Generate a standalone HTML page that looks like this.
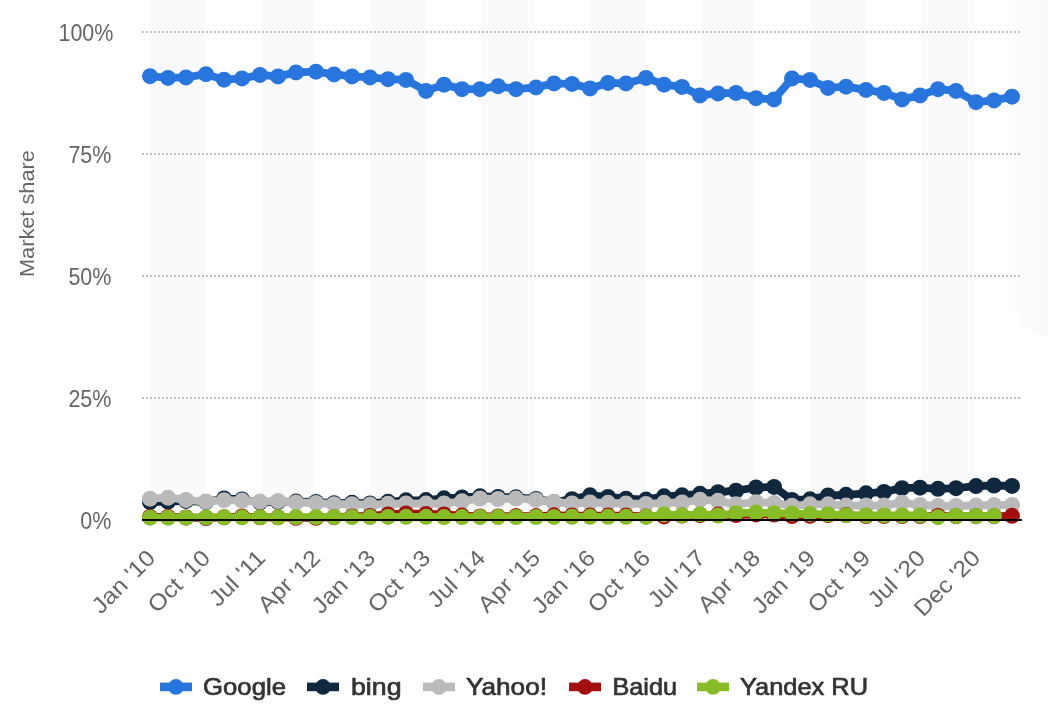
<!DOCTYPE html>
<html><head><meta charset="utf-8"><title>Chart</title>
<style>html,body{margin:0;padding:0;background:#fff;}svg{display:block;}text{font-family:"Liberation Sans",sans-serif;}</style>
</head><body>
<svg style="will-change:transform" width="1048" height="715" viewBox="0 0 1048 715">
<rect x="0" y="0" width="1048" height="715" fill="#ffffff"/>
<defs><linearGradient id="tg" gradientUnits="userSpaceOnUse" x1="1000" x2="1048" y1="0" y2="0"><stop offset="0" stop-color="#ffffff"/><stop offset="0.35" stop-color="#fcfdfd"/><stop offset="1" stop-color="#f8f9fb"/></linearGradient></defs>
<rect x="1003" y="-60" width="120" height="396" rx="48" ry="60" fill="url(#tg)"/>
<rect x="151" y="0" width="54" height="520" fill="#fafafa"/>
<rect x="261" y="0" width="54" height="520" fill="#fafafa"/>
<rect x="371" y="0" width="54" height="520" fill="#fafafa"/>
<rect x="481" y="0" width="54" height="520" fill="#fafafa"/>
<rect x="591" y="0" width="54" height="520" fill="#fafafa"/>
<rect x="701" y="0" width="54" height="520" fill="#fafafa"/>
<rect x="811" y="0" width="54" height="520" fill="#fafafa"/>
<rect x="921" y="0" width="54" height="520" fill="#fafafa"/>
<line x1="142" x2="1020" y1="32" y2="32" stroke="#c2c2c2" stroke-width="2" stroke-dasharray="2,2"/>
<line x1="142" x2="1020" y1="154" y2="154" stroke="#c2c2c2" stroke-width="2" stroke-dasharray="2,2"/>
<line x1="142" x2="1020" y1="276" y2="276" stroke="#c2c2c2" stroke-width="2" stroke-dasharray="2,2"/>
<line x1="142" x2="1020" y1="398" y2="398" stroke="#c2c2c2" stroke-width="2" stroke-dasharray="2,2"/>
<text transform="translate(113.4,40.9) scale(0.914,1)" text-anchor="end" font-size="23.5" fill="#666666">100%</text>
<text transform="translate(111.4,162.9) scale(0.914,1)" text-anchor="end" font-size="23.5" fill="#666666">75%</text>
<text transform="translate(111.4,284.9) scale(0.914,1)" text-anchor="end" font-size="23.5" fill="#666666">50%</text>
<text transform="translate(111.4,406.9) scale(0.914,1)" text-anchor="end" font-size="23.5" fill="#666666">25%</text>
<text transform="translate(111.4,528.9) scale(0.914,1)" text-anchor="end" font-size="23.5" fill="#666666">0%</text>
<text transform="translate(33.7,277) rotate(-90)" font-size="19.9" fill="#666666" textLength="126.8" lengthAdjust="spacingAndGlyphs">Market share</text>
<g fill="#2876dd" stroke="none">
<polyline points="150.00,76.15 168.00,77.90 186.00,77.40 206.00,74.15 224.00,79.65 242.00,78.40 260.00,74.90 278.00,76.40 296.00,72.40 316.00,71.65 334.00,74.40 352.00,76.40 370.00,77.40 388.00,79.15 406.00,79.90 426.00,90.90 444.00,84.65 462.00,89.15 480.00,89.15 498.00,86.15 516.00,89.15 536.00,87.40 554.00,83.40 572.00,83.90 590.00,88.40 608.00,82.90 626.00,83.40 646.00,77.90 664.00,84.65 682.00,86.90 700.00,95.40 718.00,93.40 736.00,92.90 756.00,98.15 774.00,99.40 792.00,78.40 810.00,79.90 828.00,87.90 846.00,86.65 866.00,89.90 884.00,92.90 902.00,99.40 920.00,95.40 938.00,89.15 956.00,90.90 976.00,102.15 994.00,100.40 1012.00,96.65" fill="none" stroke="#2876dd" stroke-width="7.8" stroke-linejoin="round" stroke-linecap="round"/>
<circle cx="150.00" cy="76.15" r="8.0"/>
<circle cx="168.00" cy="77.90" r="8.0"/>
<circle cx="186.00" cy="77.40" r="8.0"/>
<circle cx="206.00" cy="74.15" r="8.0"/>
<circle cx="224.00" cy="79.65" r="8.0"/>
<circle cx="242.00" cy="78.40" r="8.0"/>
<circle cx="260.00" cy="74.90" r="8.0"/>
<circle cx="278.00" cy="76.40" r="8.0"/>
<circle cx="296.00" cy="72.40" r="8.0"/>
<circle cx="316.00" cy="71.65" r="8.0"/>
<circle cx="334.00" cy="74.40" r="8.0"/>
<circle cx="352.00" cy="76.40" r="8.0"/>
<circle cx="370.00" cy="77.40" r="8.0"/>
<circle cx="388.00" cy="79.15" r="8.0"/>
<circle cx="406.00" cy="79.90" r="8.0"/>
<circle cx="426.00" cy="90.90" r="8.0"/>
<circle cx="444.00" cy="84.65" r="8.0"/>
<circle cx="462.00" cy="89.15" r="8.0"/>
<circle cx="480.00" cy="89.15" r="8.0"/>
<circle cx="498.00" cy="86.15" r="8.0"/>
<circle cx="516.00" cy="89.15" r="8.0"/>
<circle cx="536.00" cy="87.40" r="8.0"/>
<circle cx="554.00" cy="83.40" r="8.0"/>
<circle cx="572.00" cy="83.90" r="8.0"/>
<circle cx="590.00" cy="88.40" r="8.0"/>
<circle cx="608.00" cy="82.90" r="8.0"/>
<circle cx="626.00" cy="83.40" r="8.0"/>
<circle cx="646.00" cy="77.90" r="8.0"/>
<circle cx="664.00" cy="84.65" r="8.0"/>
<circle cx="682.00" cy="86.90" r="8.0"/>
<circle cx="700.00" cy="95.40" r="8.0"/>
<circle cx="718.00" cy="93.40" r="8.0"/>
<circle cx="736.00" cy="92.90" r="8.0"/>
<circle cx="756.00" cy="98.15" r="8.0"/>
<circle cx="774.00" cy="99.40" r="8.0"/>
<circle cx="792.00" cy="78.40" r="8.0"/>
<circle cx="810.00" cy="79.90" r="8.0"/>
<circle cx="828.00" cy="87.90" r="8.0"/>
<circle cx="846.00" cy="86.65" r="8.0"/>
<circle cx="866.00" cy="89.90" r="8.0"/>
<circle cx="884.00" cy="92.90" r="8.0"/>
<circle cx="902.00" cy="99.40" r="8.0"/>
<circle cx="920.00" cy="95.40" r="8.0"/>
<circle cx="938.00" cy="89.15" r="8.0"/>
<circle cx="956.00" cy="90.90" r="8.0"/>
<circle cx="976.00" cy="102.15" r="8.0"/>
<circle cx="994.00" cy="100.40" r="8.0"/>
<circle cx="1012.00" cy="96.65" r="8.0"/>
</g>
<g fill="#0f283e" stroke="none">
<polyline points="150.00,502.00 168.00,501.50 186.00,500.90 206.00,502.00 224.00,498.50 242.00,499.50 260.00,502.30 278.00,501.80 296.00,501.60 316.00,502.00 334.00,503.20 352.00,502.80 370.00,503.50 388.00,501.80 406.00,500.30 426.00,500.10 444.00,498.30 462.00,497.40 480.00,496.30 498.00,497.00 516.00,497.30 536.00,498.90 554.00,502.20 572.00,499.20 590.00,495.30 608.00,497.00 626.00,498.70 646.00,499.60 664.00,496.30 682.00,495.30 700.00,493.80 718.00,492.20 736.00,490.70 756.00,487.50 774.00,486.90 792.00,500.00 810.00,499.30 828.00,495.50 846.00,494.80 866.00,493.30 884.00,491.90 902.00,488.20 920.00,487.70 938.00,488.80 956.00,488.20 976.00,486.10 994.00,485.50 1012.00,485.90" fill="none" stroke="#0f283e" stroke-width="7.8" stroke-linejoin="round" stroke-linecap="round"/>
<circle cx="150.00" cy="502.00" r="8.0"/>
<circle cx="168.00" cy="501.50" r="8.0"/>
<circle cx="186.00" cy="500.90" r="8.0"/>
<circle cx="206.00" cy="502.00" r="8.0"/>
<circle cx="224.00" cy="498.50" r="8.0"/>
<circle cx="242.00" cy="499.50" r="8.0"/>
<circle cx="260.00" cy="502.30" r="8.0"/>
<circle cx="278.00" cy="501.80" r="8.0"/>
<circle cx="296.00" cy="501.60" r="8.0"/>
<circle cx="316.00" cy="502.00" r="8.0"/>
<circle cx="334.00" cy="503.20" r="8.0"/>
<circle cx="352.00" cy="502.80" r="8.0"/>
<circle cx="370.00" cy="503.50" r="8.0"/>
<circle cx="388.00" cy="501.80" r="8.0"/>
<circle cx="406.00" cy="500.30" r="8.0"/>
<circle cx="426.00" cy="500.10" r="8.0"/>
<circle cx="444.00" cy="498.30" r="8.0"/>
<circle cx="462.00" cy="497.40" r="8.0"/>
<circle cx="480.00" cy="496.30" r="8.0"/>
<circle cx="498.00" cy="497.00" r="8.0"/>
<circle cx="516.00" cy="497.30" r="8.0"/>
<circle cx="536.00" cy="498.90" r="8.0"/>
<circle cx="554.00" cy="502.20" r="8.0"/>
<circle cx="572.00" cy="499.20" r="8.0"/>
<circle cx="590.00" cy="495.30" r="8.0"/>
<circle cx="608.00" cy="497.00" r="8.0"/>
<circle cx="626.00" cy="498.70" r="8.0"/>
<circle cx="646.00" cy="499.60" r="8.0"/>
<circle cx="664.00" cy="496.30" r="8.0"/>
<circle cx="682.00" cy="495.30" r="8.0"/>
<circle cx="700.00" cy="493.80" r="8.0"/>
<circle cx="718.00" cy="492.20" r="8.0"/>
<circle cx="736.00" cy="490.70" r="8.0"/>
<circle cx="756.00" cy="487.50" r="8.0"/>
<circle cx="774.00" cy="486.90" r="8.0"/>
<circle cx="792.00" cy="500.00" r="8.0"/>
<circle cx="810.00" cy="499.30" r="8.0"/>
<circle cx="828.00" cy="495.50" r="8.0"/>
<circle cx="846.00" cy="494.80" r="8.0"/>
<circle cx="866.00" cy="493.30" r="8.0"/>
<circle cx="884.00" cy="491.90" r="8.0"/>
<circle cx="902.00" cy="488.20" r="8.0"/>
<circle cx="920.00" cy="487.70" r="8.0"/>
<circle cx="938.00" cy="488.80" r="8.0"/>
<circle cx="956.00" cy="488.20" r="8.0"/>
<circle cx="976.00" cy="486.10" r="8.0"/>
<circle cx="994.00" cy="485.50" r="8.0"/>
<circle cx="1012.00" cy="485.90" r="8.0"/>
</g>
<g fill="#bababa" stroke="none">
<polyline points="150.00,498.70 168.00,497.70 186.00,499.90 206.00,501.60 224.00,500.20 242.00,500.60 260.00,501.60 278.00,501.00 296.00,502.50 316.00,503.00 334.00,504.20 352.00,504.20 370.00,504.60 388.00,503.80 406.00,503.50 426.00,503.60 444.00,503.50 462.00,501.30 480.00,498.50 498.00,499.00 516.00,498.60 536.00,499.90 554.00,502.00 572.00,503.50 590.00,502.50 608.00,502.80 626.00,503.50 646.00,503.90 664.00,502.80 682.00,502.50 700.00,499.80 718.00,500.80 736.00,504.30 756.00,502.20 774.00,502.90 792.00,505.80 810.00,504.30 828.00,504.30 846.00,505.60 866.00,505.50 884.00,505.50 902.00,502.70 920.00,504.90 938.00,506.00 956.00,506.00 976.00,505.50 994.00,505.10 1012.00,504.90" fill="none" stroke="#bababa" stroke-width="7.8" stroke-linejoin="round" stroke-linecap="round"/>
<circle cx="150.00" cy="498.70" r="8.0"/>
<circle cx="168.00" cy="497.70" r="8.0"/>
<circle cx="186.00" cy="499.90" r="8.0"/>
<circle cx="206.00" cy="501.60" r="8.0"/>
<circle cx="224.00" cy="500.20" r="8.0"/>
<circle cx="242.00" cy="500.60" r="8.0"/>
<circle cx="260.00" cy="501.60" r="8.0"/>
<circle cx="278.00" cy="501.00" r="8.0"/>
<circle cx="296.00" cy="502.50" r="8.0"/>
<circle cx="316.00" cy="503.00" r="8.0"/>
<circle cx="334.00" cy="504.20" r="8.0"/>
<circle cx="352.00" cy="504.20" r="8.0"/>
<circle cx="370.00" cy="504.60" r="8.0"/>
<circle cx="388.00" cy="503.80" r="8.0"/>
<circle cx="406.00" cy="503.50" r="8.0"/>
<circle cx="426.00" cy="503.60" r="8.0"/>
<circle cx="444.00" cy="503.50" r="8.0"/>
<circle cx="462.00" cy="501.30" r="8.0"/>
<circle cx="480.00" cy="498.50" r="8.0"/>
<circle cx="498.00" cy="499.00" r="8.0"/>
<circle cx="516.00" cy="498.60" r="8.0"/>
<circle cx="536.00" cy="499.90" r="8.0"/>
<circle cx="554.00" cy="502.00" r="8.0"/>
<circle cx="572.00" cy="503.50" r="8.0"/>
<circle cx="590.00" cy="502.50" r="8.0"/>
<circle cx="608.00" cy="502.80" r="8.0"/>
<circle cx="626.00" cy="503.50" r="8.0"/>
<circle cx="646.00" cy="503.90" r="8.0"/>
<circle cx="664.00" cy="502.80" r="8.0"/>
<circle cx="682.00" cy="502.50" r="8.0"/>
<circle cx="700.00" cy="499.80" r="8.0"/>
<circle cx="718.00" cy="500.80" r="8.0"/>
<circle cx="736.00" cy="504.30" r="8.0"/>
<circle cx="756.00" cy="502.20" r="8.0"/>
<circle cx="774.00" cy="502.90" r="8.0"/>
<circle cx="792.00" cy="505.80" r="8.0"/>
<circle cx="810.00" cy="504.30" r="8.0"/>
<circle cx="828.00" cy="504.30" r="8.0"/>
<circle cx="846.00" cy="505.60" r="8.0"/>
<circle cx="866.00" cy="505.50" r="8.0"/>
<circle cx="884.00" cy="505.50" r="8.0"/>
<circle cx="902.00" cy="502.70" r="8.0"/>
<circle cx="920.00" cy="504.90" r="8.0"/>
<circle cx="938.00" cy="506.00" r="8.0"/>
<circle cx="956.00" cy="506.00" r="8.0"/>
<circle cx="976.00" cy="505.50" r="8.0"/>
<circle cx="994.00" cy="505.10" r="8.0"/>
<circle cx="1012.00" cy="504.90" r="8.0"/>
</g>
<g fill="#a30f0f" stroke="none">
<polyline points="150.00,517.00 168.00,517.00 186.00,517.50 206.00,518.00 224.00,517.30 242.00,516.40 260.00,517.30 278.00,517.30 296.00,517.80 316.00,517.80 334.00,517.20 352.00,516.40 370.00,515.90 388.00,514.50 406.00,513.50 426.00,514.00 444.00,514.50 462.00,515.60 480.00,516.40 498.00,516.40 516.00,516.10 536.00,516.10 554.00,515.30 572.00,515.60 590.00,515.60 608.00,515.60 626.00,515.60 646.00,516.40 664.00,516.40 682.00,515.60 700.00,515.20 718.00,514.60 736.00,515.10 756.00,514.40 774.00,514.60 792.00,516.10 810.00,515.80 828.00,515.10 846.00,515.10 866.00,516.10 884.00,516.00 902.00,516.00 920.00,516.00 938.00,516.00 956.00,516.20 976.00,516.20 994.00,516.20 1012.00,515.80" fill="none" stroke="#a30f0f" stroke-width="7.8" stroke-linejoin="round" stroke-linecap="round"/>
<circle cx="150.00" cy="517.00" r="8.0"/>
<circle cx="168.00" cy="517.00" r="8.0"/>
<circle cx="186.00" cy="517.50" r="8.0"/>
<circle cx="206.00" cy="518.00" r="8.0"/>
<circle cx="224.00" cy="517.30" r="8.0"/>
<circle cx="242.00" cy="516.40" r="8.0"/>
<circle cx="260.00" cy="517.30" r="8.0"/>
<circle cx="278.00" cy="517.30" r="8.0"/>
<circle cx="296.00" cy="517.80" r="8.0"/>
<circle cx="316.00" cy="517.80" r="8.0"/>
<circle cx="334.00" cy="517.20" r="8.0"/>
<circle cx="352.00" cy="516.40" r="8.0"/>
<circle cx="370.00" cy="515.90" r="8.0"/>
<circle cx="388.00" cy="514.50" r="8.0"/>
<circle cx="406.00" cy="513.50" r="8.0"/>
<circle cx="426.00" cy="514.00" r="8.0"/>
<circle cx="444.00" cy="514.50" r="8.0"/>
<circle cx="462.00" cy="515.60" r="8.0"/>
<circle cx="480.00" cy="516.40" r="8.0"/>
<circle cx="498.00" cy="516.40" r="8.0"/>
<circle cx="516.00" cy="516.10" r="8.0"/>
<circle cx="536.00" cy="516.10" r="8.0"/>
<circle cx="554.00" cy="515.30" r="8.0"/>
<circle cx="572.00" cy="515.60" r="8.0"/>
<circle cx="590.00" cy="515.60" r="8.0"/>
<circle cx="608.00" cy="515.60" r="8.0"/>
<circle cx="626.00" cy="515.60" r="8.0"/>
<circle cx="646.00" cy="516.40" r="8.0"/>
<circle cx="664.00" cy="516.40" r="8.0"/>
<circle cx="682.00" cy="515.60" r="8.0"/>
<circle cx="700.00" cy="515.20" r="8.0"/>
<circle cx="718.00" cy="514.60" r="8.0"/>
<circle cx="736.00" cy="515.10" r="8.0"/>
<circle cx="756.00" cy="514.40" r="8.0"/>
<circle cx="774.00" cy="514.60" r="8.0"/>
<circle cx="792.00" cy="516.10" r="8.0"/>
<circle cx="810.00" cy="515.80" r="8.0"/>
<circle cx="828.00" cy="515.10" r="8.0"/>
<circle cx="846.00" cy="515.10" r="8.0"/>
<circle cx="866.00" cy="516.10" r="8.0"/>
<circle cx="884.00" cy="516.00" r="8.0"/>
<circle cx="902.00" cy="516.00" r="8.0"/>
<circle cx="920.00" cy="516.00" r="8.0"/>
<circle cx="938.00" cy="516.00" r="8.0"/>
<circle cx="956.00" cy="516.20" r="8.0"/>
<circle cx="976.00" cy="516.20" r="8.0"/>
<circle cx="994.00" cy="516.20" r="8.0"/>
<circle cx="1012.00" cy="515.80" r="8.0"/>
</g>
<g fill="#86bc25" stroke="none">
<polyline points="150.00,517.70 168.00,517.70 186.00,517.70 206.00,517.40 224.00,517.30 242.00,517.30 260.00,517.30 278.00,517.30 296.00,517.10 316.00,517.10 334.00,517.10 352.00,517.10 370.00,517.10 388.00,516.90 406.00,516.80 426.00,516.80 444.00,517.10 462.00,517.10 480.00,517.10 498.00,517.10 516.00,517.00 536.00,517.00 554.00,516.90 572.00,516.80 590.00,516.80 608.00,516.80 626.00,516.80 646.00,516.80 664.00,514.50 682.00,515.30 700.00,514.30 718.00,515.50 736.00,513.20 756.00,512.60 774.00,513.20 792.00,513.60 810.00,514.10 828.00,514.40 846.00,515.20 866.00,515.40 884.00,515.40 902.00,515.40 920.00,515.40 938.00,517.20 956.00,516.00 976.00,516.00 994.00,516.00" fill="none" stroke="#86bc25" stroke-width="7.8" stroke-linejoin="round" stroke-linecap="round"/>
<circle cx="150.00" cy="517.70" r="8.0"/>
<circle cx="168.00" cy="517.70" r="8.0"/>
<circle cx="186.00" cy="517.70" r="8.0"/>
<circle cx="206.00" cy="517.40" r="8.0"/>
<circle cx="224.00" cy="517.30" r="8.0"/>
<circle cx="242.00" cy="517.30" r="8.0"/>
<circle cx="260.00" cy="517.30" r="8.0"/>
<circle cx="278.00" cy="517.30" r="8.0"/>
<circle cx="296.00" cy="517.10" r="8.0"/>
<circle cx="316.00" cy="517.10" r="8.0"/>
<circle cx="334.00" cy="517.10" r="8.0"/>
<circle cx="352.00" cy="517.10" r="8.0"/>
<circle cx="370.00" cy="517.10" r="8.0"/>
<circle cx="388.00" cy="516.90" r="8.0"/>
<circle cx="406.00" cy="516.80" r="8.0"/>
<circle cx="426.00" cy="516.80" r="8.0"/>
<circle cx="444.00" cy="517.10" r="8.0"/>
<circle cx="462.00" cy="517.10" r="8.0"/>
<circle cx="480.00" cy="517.10" r="8.0"/>
<circle cx="498.00" cy="517.10" r="8.0"/>
<circle cx="516.00" cy="517.00" r="8.0"/>
<circle cx="536.00" cy="517.00" r="8.0"/>
<circle cx="554.00" cy="516.90" r="8.0"/>
<circle cx="572.00" cy="516.80" r="8.0"/>
<circle cx="590.00" cy="516.80" r="8.0"/>
<circle cx="608.00" cy="516.80" r="8.0"/>
<circle cx="626.00" cy="516.80" r="8.0"/>
<circle cx="646.00" cy="516.80" r="8.0"/>
<circle cx="664.00" cy="514.50" r="8.0"/>
<circle cx="682.00" cy="515.30" r="8.0"/>
<circle cx="700.00" cy="514.30" r="8.0"/>
<circle cx="718.00" cy="515.50" r="8.0"/>
<circle cx="736.00" cy="513.20" r="8.0"/>
<circle cx="756.00" cy="512.60" r="8.0"/>
<circle cx="774.00" cy="513.20" r="8.0"/>
<circle cx="792.00" cy="513.60" r="8.0"/>
<circle cx="810.00" cy="514.10" r="8.0"/>
<circle cx="828.00" cy="514.40" r="8.0"/>
<circle cx="846.00" cy="515.20" r="8.0"/>
<circle cx="866.00" cy="515.40" r="8.0"/>
<circle cx="884.00" cy="515.40" r="8.0"/>
<circle cx="902.00" cy="515.40" r="8.0"/>
<circle cx="920.00" cy="515.40" r="8.0"/>
<circle cx="938.00" cy="517.20" r="8.0"/>
<circle cx="956.00" cy="516.00" r="8.0"/>
<circle cx="976.00" cy="516.00" r="8.0"/>
<circle cx="994.00" cy="516.00" r="8.0"/>
</g>
<rect x="142" y="519" width="880" height="2" fill="#000000"/>
<text transform="translate(156.60,559.3) rotate(-45) scale(1.08,1)" text-anchor="end" font-size="22.8" fill="#666666">Jan '10</text>
<text transform="translate(211.60,559.3) rotate(-45) scale(1.08,1)" text-anchor="end" font-size="22.8" fill="#666666">Oct '10</text>
<text transform="translate(266.61,559.3) rotate(-45) scale(1.08,1)" text-anchor="end" font-size="22.8" fill="#666666">Jul '11</text>
<text transform="translate(321.62,559.3) rotate(-45) scale(1.08,1)" text-anchor="end" font-size="22.8" fill="#666666">Apr '12</text>
<text transform="translate(376.62,559.3) rotate(-45) scale(1.08,1)" text-anchor="end" font-size="22.8" fill="#666666">Jan '13</text>
<text transform="translate(431.63,559.3) rotate(-45) scale(1.08,1)" text-anchor="end" font-size="22.8" fill="#666666">Oct '13</text>
<text transform="translate(486.63,559.3) rotate(-45) scale(1.08,1)" text-anchor="end" font-size="22.8" fill="#666666">Jul '14</text>
<text transform="translate(541.64,559.3) rotate(-45) scale(1.08,1)" text-anchor="end" font-size="22.8" fill="#666666">Apr '15</text>
<text transform="translate(596.64,559.3) rotate(-45) scale(1.08,1)" text-anchor="end" font-size="22.8" fill="#666666">Jan '16</text>
<text transform="translate(651.65,559.3) rotate(-45) scale(1.08,1)" text-anchor="end" font-size="22.8" fill="#666666">Oct '16</text>
<text transform="translate(706.65,559.3) rotate(-45) scale(1.08,1)" text-anchor="end" font-size="22.8" fill="#666666">Jul '17</text>
<text transform="translate(761.66,559.3) rotate(-45) scale(1.08,1)" text-anchor="end" font-size="22.8" fill="#666666">Apr '18</text>
<text transform="translate(816.66,559.3) rotate(-45) scale(1.08,1)" text-anchor="end" font-size="22.8" fill="#666666">Jan '19</text>
<text transform="translate(871.67,559.3) rotate(-45) scale(1.08,1)" text-anchor="end" font-size="22.8" fill="#666666">Oct '19</text>
<text transform="translate(926.67,559.3) rotate(-45) scale(1.08,1)" text-anchor="end" font-size="22.8" fill="#666666">Jul '20</text>
<text transform="translate(981.68,559.3) rotate(-45) scale(1.08,1)" text-anchor="end" font-size="22.8" fill="#666666">Dec '20</text>
<rect x="160" y="682.6" width="32" height="8.6" fill="#2876dd"/>
<circle cx="176" cy="686.9" r="7.8" fill="#2876dd"/>
<text x="203" y="694.5" font-size="24" fill="#333333" stroke="#333333" stroke-width="0.7" textLength="83" lengthAdjust="spacingAndGlyphs">Google</text>
<rect x="307" y="682.6" width="32" height="8.6" fill="#0f283e"/>
<circle cx="323" cy="686.9" r="7.8" fill="#0f283e"/>
<text x="351" y="694.5" font-size="24" fill="#333333" stroke="#333333" stroke-width="0.7" textLength="50.5" lengthAdjust="spacingAndGlyphs">bing</text>
<rect x="423" y="682.6" width="32" height="8.6" fill="#bababa"/>
<circle cx="439" cy="686.9" r="7.8" fill="#bababa"/>
<text x="466" y="694.5" font-size="24" fill="#333333" stroke="#333333" stroke-width="0.7" textLength="81" lengthAdjust="spacingAndGlyphs">Yahoo!</text>
<rect x="569" y="682.6" width="32" height="8.6" fill="#a30f0f"/>
<circle cx="585" cy="686.9" r="7.8" fill="#a30f0f"/>
<text x="612.5" y="694.5" font-size="24" fill="#333333" stroke="#333333" stroke-width="0.7" textLength="64.5" lengthAdjust="spacingAndGlyphs">Baidu</text>
<rect x="697" y="682.6" width="32" height="8.6" fill="#86bc25"/>
<circle cx="713" cy="686.9" r="7.8" fill="#86bc25"/>
<text x="740" y="694.5" font-size="24" fill="#333333" stroke="#333333" stroke-width="0.7" textLength="128" lengthAdjust="spacingAndGlyphs">Yandex RU</text>
</svg>
</body></html>
